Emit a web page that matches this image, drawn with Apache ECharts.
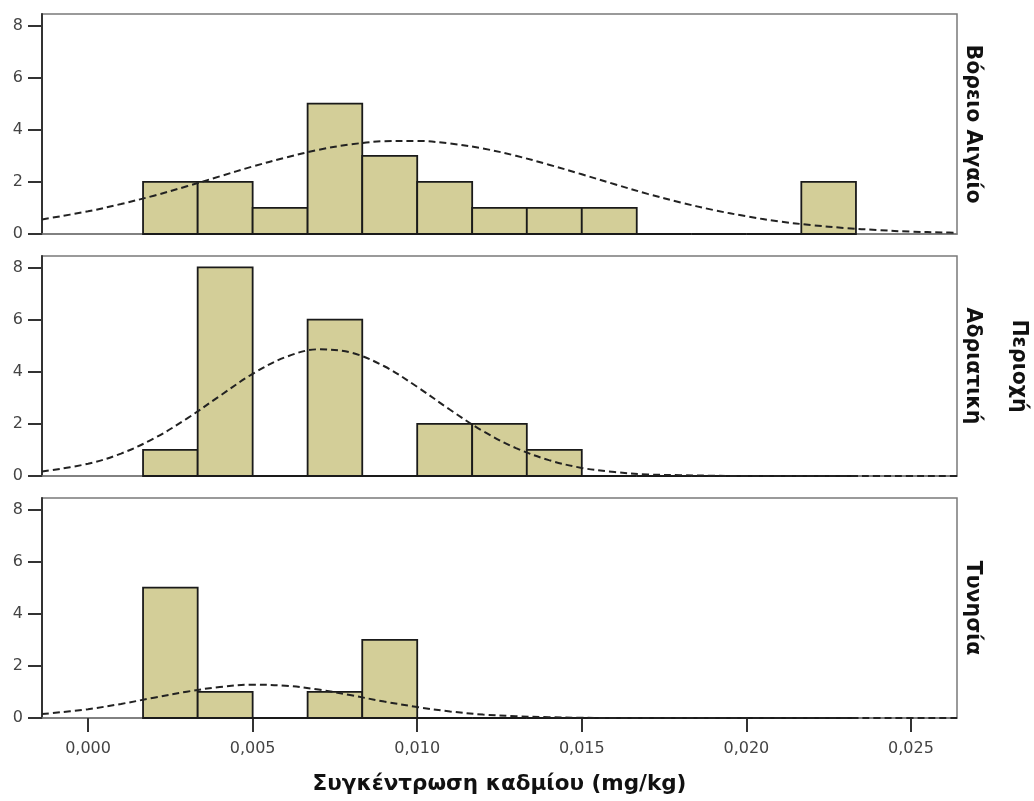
<!DOCTYPE html>
<html>
<head>
<meta charset="utf-8">
<script src="https://cdn.jsdelivr.net/npm/echarts@6/dist/echarts.min.js"></script>
<style>
  html, body { margin: 0; padding: 0; background: #fff; }
  #chart { width: 1034px; height: 801px; }
</style>
</head>
<body>
<div id="chart"></div>
<script>
// Histogram bin edges (mg/kg), shared by all three regions
const binEdges = [0.00167, 0.00333, 0.005, 0.00667, 0.00833, 0.01, 0.01167,
                  0.01333, 0.015, 0.01667, 0.01833, 0.02, 0.02167, 0.02333];

// Region names, one panel each
const regions = ['Βόρειο Αιγαίο', 'Αδριατική', 'Τυνησία'];

// Frequencies per bin
const countsAegean   = [2, 2, 1, 5, 3, 2, 1, 1, 1, 0, 0, 0, 2];
const countsAdriatic = [1, 8, 0, 6, 0, 2, 2, 1, 0, 0, 0, 0, 0];
const countsTunisia  = [5, 1, 0, 1, 3, 0, 0, 0, 0, 0, 0, 0, 0];

// Normal reference curve, sampled along the concentration axis
const curveX = [-0.0014, 0.000, 0.001, 0.002, 0.003, 0.004, 0.005, 0.006, 0.007,
                0.008, 0.009, 0.010, 0.011, 0.012, 0.013, 0.014, 0.015, 0.016,
                0.017, 0.018, 0.019, 0.020, 0.021, 0.022, 0.023, 0.024, 0.025,
                0.026, 0.0264];
const curveAegean   = [0.56, 0.87, 1.15, 1.47, 1.83, 2.21, 2.59, 2.93, 3.23,
                       3.44, 3.56, 3.57, 3.47, 3.28, 3.00, 2.66, 2.29, 1.91,
                       1.54, 1.21, 0.92, 0.68, 0.48, 0.34, 0.23, 0.15, 0.09,
                       0.06, 0.05];
const curveAdriatic = [0.17, 0.47, 0.86, 1.44, 2.20, 3.07, 3.92, 4.56, 4.86,
                       4.73, 4.21, 3.42, 2.54, 1.72, 1.07, 0.61, 0.31, 0.15,
                       0.06, 0.03, 0.01, 0.00, 0.00, 0.00, 0.00, 0.00, 0.00,
                       0.00, 0.00];
const curveTunisia  = [0.15, 0.34, 0.54, 0.78, 1.01, 1.19, 1.28, 1.24, 1.09,
                       0.87, 0.63, 0.42, 0.25, 0.13, 0.07, 0.03, 0.01, 0.00,
                       0.00, 0.00, 0.00, 0.00, 0.00, 0.00, 0.00, 0.00, 0.00,
                       0.00, 0.00];

// Axis ticks
const xTickValues = [0, 0.005, 0.010, 0.015, 0.020, 0.025];
const yTickValues = [0, 2, 4, 6, 8];

const xAxisTitle = 'Συγκέντρωση καδμίου (mg/kg)';
const facetTitle = 'Περιοχή';

const allCounts = [countsAegean, countsAdriatic, countsTunisia];
const allCurves = [curveAegean, curveAdriatic, curveTunisia];

const FONT = 'DejaVu Sans';
const X_MIN = -0.0014, X_MAX = 0.0264, Y_MAX = 8.44;
const GRID_LEFT = 42, GRID_RIGHT = 77, GRID_H = 220;
const gridTops = [14, 256, 498];

const grids = [], xAxes = [], yAxes = [], series = [], graphics = [];

regions.forEach((name, i) => {
  const last = i === regions.length - 1;
  grids.push({
    left: GRID_LEFT, right: GRID_RIGHT, top: gridTops[i], height: GRID_H,
    show: true, borderColor: '#7a7a7a', borderWidth: 1.5, backgroundColor: '#fff'
  });
  xAxes.push({
    type: 'value', gridIndex: i, min: X_MIN, max: X_MAX,
    axisLine: { show: true, onZero: false, lineStyle: { color: '#7a7a7a', width: 1.5 } },
    splitLine: { show: false },
    axisTick: {
      show: last, customValues: xTickValues, length: 14,
      lineStyle: { color: '#333', width: 2 }
    },
    axisLabel: {
      show: last, customValues: xTickValues, margin: 23,
      fontFamily: FONT, fontSize: 16, color: '#444',
      formatter: v => v.toFixed(3).replace('.', ',')
    },
    name: last ? xAxisTitle : '',
    nameLocation: 'middle', nameGap: 55,
    nameTextStyle: { fontFamily: FONT, fontSize: 21.5, fontWeight: 'bold', color: '#111' }
  });
  yAxes.push({
    type: 'value', gridIndex: i, min: 0, max: Y_MAX,
    axisLine: { show: true, onZero: false, lineStyle: { color: '#333', width: 2 } },
    splitLine: { show: false },
    axisTick: {
      show: true, customValues: yTickValues, length: 14,
      lineStyle: { color: '#333', width: 2 }
    },
    axisLabel: {
      customValues: yTickValues, margin: 19,
      fontFamily: FONT, fontSize: 16, color: '#444'
    }
  });

  // Histogram bars (zero-count bins show as a line on the baseline)
  series.push({
    type: 'custom', xAxisIndex: i, yAxisIndex: i, z: 2,
    data: allCounts[i].map((c, k) => [binEdges[k], binEdges[k + 1], c]),
    encode: { x: [0, 1], y: 2 },
    renderItem: (params, api) => {
      const top = api.coord([api.value(0), api.value(2)]);
      const bottom = api.coord([api.value(1), 0]);
      if (api.value(2) === 0) {
        return {
          type: 'line',
          shape: { x1: top[0], y1: bottom[1], x2: bottom[0], y2: bottom[1] },
          style: { stroke: '#1a1a1a', lineWidth: 2 }
        };
      }
      return {
        type: 'rect',
        shape: { x: top[0], y: top[1], width: bottom[0] - top[0], height: bottom[1] - top[1] },
        style: { fill: '#d3ce98', stroke: '#1a1a1a', lineWidth: 1.8 }
      };
    }
  });

  // Normal curve overlay
  series.push({
    type: 'line', xAxisIndex: i, yAxisIndex: i, z: 3,
    data: curveX.map((x, k) => [x, allCurves[i][k]]),
    smooth: 0.35, showSymbol: false, silent: true,
    lineStyle: { color: '#222', width: 2, type: [7, 4] }
  });

  // Region label on the right of each panel
  graphics.push({
    type: 'text', x: 972, y: gridTops[i] + GRID_H / 2, rotation: -Math.PI / 2,
    style: {
      text: name, fontFamily: FONT, fontSize: 20.5, fontWeight: 'bold', fill: '#111',
      align: 'center', verticalAlign: 'middle'
    }
  });
});

graphics.push({
  type: 'text', x: 1018, y: gridTops[1] + GRID_H / 2, rotation: -Math.PI / 2,
  style: {
    text: facetTitle, fontFamily: FONT, fontSize: 20.5, fontWeight: 'bold', fill: '#111',
    align: 'center', verticalAlign: 'middle'
  }
});

const chart = echarts.init(document.getElementById('chart'), null, { renderer: 'canvas' });
chart.setOption({
  animation: false,
  backgroundColor: '#fff',
  grid: grids,
  xAxis: xAxes,
  yAxis: yAxes,
  series: series,
  graphic: graphics
});
</script>
</body>
</html>
